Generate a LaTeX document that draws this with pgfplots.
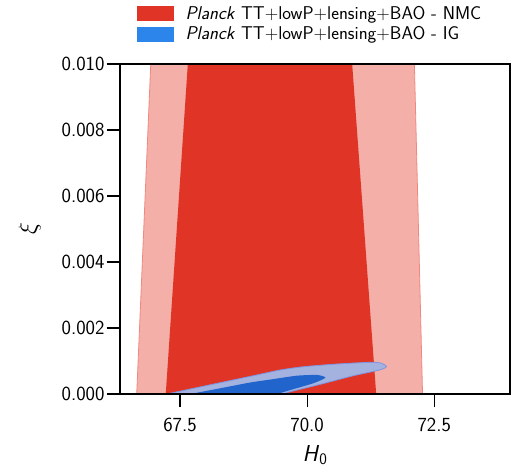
\documentclass[border=0pt]{standalone}
\usepackage{pgfplots}
\pgfplotsset{compat=1.18}
\definecolor{nmcdark}{RGB}{224,53,38}
\definecolor{nmclight}{RGB}{243,175,168}
\definecolor{nmcedge}{RGB}{240,136,128}
\definecolor{igdark}{RGB}{33,100,204}
\definecolor{iglight}{RGB}{164,178,224}
\definecolor{igedge}{RGB}{125,150,225}
\definecolor{legblue}{RGB}{43,133,234}
\begin{document}
\begin{tikzpicture}
\begin{axis}[
  at={(0pt,0pt)}, anchor=south west,
  scale only axis, width=390pt, height=330pt,
  xmin=66.32, xmax=73.99, ymin=0, ymax=0.01,
  xtick={67.5,70,72.5}, ytick={0,0.002,0.004,0.006,0.008,0.01},
  xtick pos=bottom, ytick pos=left,
  tick align=outside, major tick length=13pt,
  every tick/.style={black, line width=1.2pt},
  axis line style={line width=1.2pt},
  scaled y ticks=false,
  xticklabel style={yshift=-8pt, font=\sffamily\fontsize{20}{20}\selectfont, /pgf/number format/.cd, assume math mode=true, fixed, fixed zerofill, precision=1},
  yticklabel style={xshift=1pt, font=\sffamily\fontsize{20}{20}\selectfont, /pgf/number format/.cd, assume math mode=true, fixed, fixed zerofill, precision=3},
  xlabel={\sffamily\fontsize{23}{23}\selectfont\textit{H}\textsubscript{0}},
  xlabel style={yshift=-6pt},
  ylabel={\fontsize{23}{23}\selectfont$\xi$},
  ylabel style={yshift=14pt},
  legend style={draw=none, fill=none, at={(rel axis cs:0.0436,1.176)}, anchor=north west,
    inner sep=0pt, row sep=6pt, column sep=12pt, nodes={inner sep=0pt},
    font=\sffamily\fontsize{18.5}{18.5}\selectfont},
  legend cell align=left,
  axis on top,
]
\addlegendimage{legend image code/.code={\fill[nmcdark] (0pt,-7pt) rectangle (36pt,7pt);}}
\addlegendentry{\textit{Planck} TT+lowP+lensing+BAO - NMC}
\addlegendimage{legend image code/.code={\fill[legblue] (0pt,-7pt) rectangle (36pt,7pt);}}
\addlegendentry{\textit{Planck} TT+lowP+lensing+BAO - IG}
% NMC 2 sigma
\addplot[fill=nmclight, draw=nmcedge, line width=0.8pt, forget plot] coordinates {
 (66.925,0.01) (72.11,0.01) (72.27,0) (66.649,0)} -- cycle;
% NMC 1 sigma
\addplot[fill=nmcdark, draw=none, forget plot] coordinates {
 (67.654,0.01) (70.886,0.01) (71.358,0) (67.22,0)} -- cycle;
% IG 2 sigma
\addplot[fill=iglight, draw=igedge, line width=0.8pt, smooth, tension=0.4, forget plot] coordinates {
 (67.24,0) (68.29,0.000342) (68.88,0.000533) (69.47,0.000727) (69.93,0.000827)
 (70.59,0.000909) (71.25,0.000961) (71.46,0.000935) (71.56,0.000827) (71.42,0.000727)
 (70.91,0.000555) (70.26,0.000294) (69.67,0.00007) (69.53,0)} -- cycle;
% IG 1 sigma
\addplot[fill=igdark, draw=none, smooth, tension=0.4, forget plot] coordinates {
 (67.70,0) (68.39,0.000203) (68.88,0.000348) (69.28,0.000439) (69.80,0.000555)
 (70.20,0.000576) (70.36,0.000494) (70.12,0.000324) (69.67,0.000121) (69.41,0)} -- cycle;
\end{axis}
\pgfresetboundingbox
\path[use as bounding box] (-120pt,-78pt) rectangle (398pt,394pt);
\end{tikzpicture}
\end{document}
